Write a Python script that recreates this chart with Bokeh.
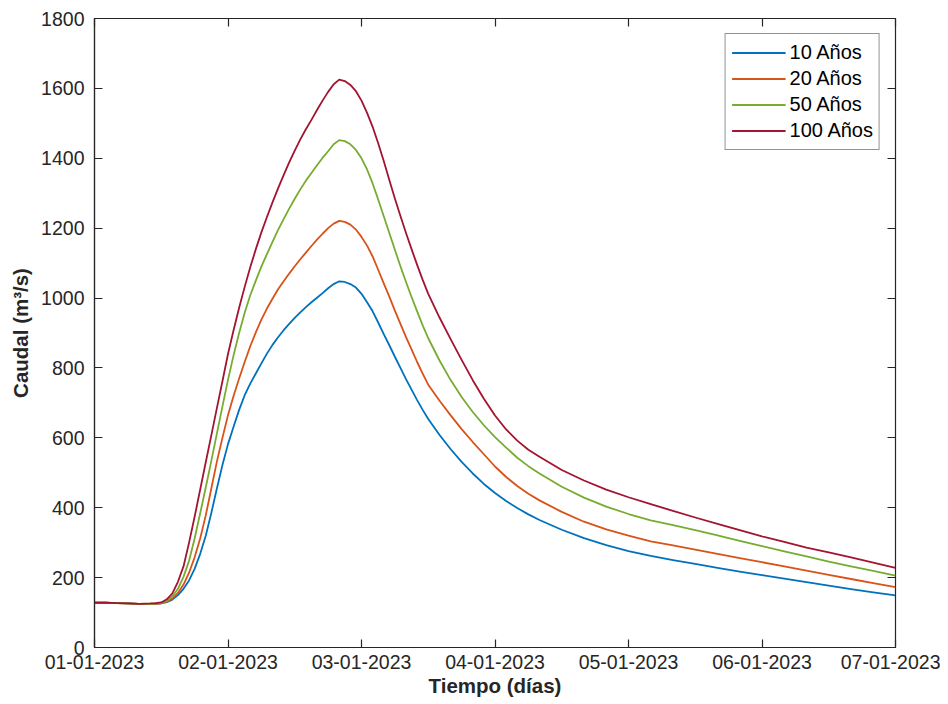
import pandas as pd
from bokeh.plotting import figure
from bokeh.models import (FixedTicker, DatetimeTickFormatter, DatetimeAxis, LinearAxis,
                          Legend, LegendItem, Range1d, CustomJSTickFormatter)
from bokeh.embed import file_html
from bokeh.resources import INLINE

# Time in hours from 01-01-2023 00:00
hours = [0, 2, 4, 6, 8, 10,
         11, 12, 13, 14, 15, 16, 17, 18, 19, 20, 21, 22, 23, 24, 25, 26, 27, 28, 29, 30,
         31, 32, 33, 34, 35, 36, 37, 38, 39, 40, 41, 42, 43, 44, 45, 46, 47, 48, 49, 50,
         51, 52, 53, 54, 55, 56, 57, 58, 59, 60,
         62, 64, 66, 68, 70, 72, 74, 76, 78, 80,
         84, 88, 92, 96, 100, 104, 108, 112, 116, 120, 124, 128, 132, 136, 140, 144]

q10 = [128, 128, 127, 126, 125, 125,
       125, 126, 130, 137, 150, 168, 192, 225, 268, 320, 385, 455, 522, 582, 632, 680, 722, 755, 784, 813,
       841, 866, 888, 908, 926, 943, 959, 974, 988, 1001, 1014, 1028, 1040, 1048, 1046, 1040, 1030, 1012, 988, 962,
       930, 897, 865, 832, 800, 768, 738, 708, 680, 654,
       609, 568, 531, 498, 468, 442, 419, 399, 381, 365,
       337, 313, 293, 276, 262, 250, 239, 228, 217, 207, 197, 187, 177, 167, 158, 149]
q20 = [128, 128, 127, 126, 125, 125,
       125, 126, 131, 140, 156, 180, 214, 258, 312, 378, 455, 532, 600, 665, 720, 770, 817, 862, 902, 938,
       970, 998, 1025, 1048, 1070, 1091, 1111, 1130, 1149, 1167, 1184, 1200, 1213, 1221, 1218, 1210, 1196, 1175, 1150, 1119,
       1081, 1042, 1004, 964, 926, 888, 853, 817, 784, 752,
       707, 665, 625, 588, 553, 518, 488, 462, 440, 421,
       388, 360, 338, 320, 304, 292, 280, 268, 256, 244, 232, 220, 208, 196, 184, 173]
q50 = [128, 128, 127, 126, 125, 125,
       126, 127, 133, 146, 168, 202, 248, 312, 384, 458, 534, 612, 690, 766, 836, 900, 958, 1008, 1050, 1090,
       1126, 1161, 1195, 1226, 1256, 1284, 1311, 1336, 1358, 1380, 1401, 1420, 1440, 1452, 1449, 1440, 1424, 1400, 1368, 1328,
       1282, 1234, 1186, 1138, 1091, 1046, 1003, 962, 922, 885,
       822, 766, 717, 674, 636, 602, 572, 543, 519, 498,
       460, 429, 403, 382, 364, 350, 336, 321, 305, 290, 275, 261, 246, 232, 219, 206]
q100 = [128, 128, 127, 126, 125, 126,
        127, 129, 138, 155, 188, 232, 300, 374, 452, 530, 607, 685, 762, 840, 908, 972, 1032, 1088, 1140, 1188,
        1232, 1274, 1314, 1352, 1388, 1422, 1454, 1483, 1510, 1538, 1565, 1590, 1612, 1625, 1621, 1610, 1592, 1565, 1530, 1490,
        1443, 1392, 1338, 1285, 1235, 1186, 1140, 1095, 1052, 1012,
        945, 883, 823, 765, 712, 664, 624, 592, 566, 546,
        508, 478, 452, 430, 410, 391, 372, 354, 336, 318, 302, 286, 272, 258, 243, 228]

series_labels = ["10 Años", "20 Años", "50 Años", "100 Años"]
series_values = [q10, q20, q50, q100]
series_colors = ["#0072BD", "#D95319", "#77AC30", "#A2142F"]

tick_dates = pd.date_range("2023-01-01", "2023-01-07", freq="D")
y_ticks = list(range(0, 1801, 200))

start = pd.Timestamp("2023-01-01")
times = [start + pd.Timedelta(hours=h) for h in hours]
tick_ms = [int(d.value // 10**6) for d in tick_dates]

FONT = "Liberation Sans"
AX = "#262626"

p = figure(width=940, height=703, x_axis_type="datetime",
           x_range=Range1d(tick_dates[0], tick_dates[-1]), y_range=Range1d(0, 1800),
           output_backend="svg", toolbar_location=None,
           min_border_left=94, min_border_right=45, min_border_top=18, min_border_bottom=56)
p.background_fill_color = "white"
p.border_fill_color = "white"
p.outline_line_color = AX
p.outline_line_width = 1.2
p.xgrid.visible = False
p.ygrid.visible = False

renderers = []
for lab, vals, col in zip(series_labels, series_values, series_colors):
    r = p.line(times, vals, line_color=col, line_width=1.8, line_join="round")
    renderers.append((lab, r))


def style_axis(ax):
    ax.axis_line_color = AX
    ax.axis_line_width = 1.2
    ax.major_tick_line_color = AX
    ax.major_tick_line_width = 1.2
    ax.major_tick_in = 8
    ax.major_tick_out = 0
    ax.minor_tick_line_color = None
    ax.major_label_text_font = FONT
    ax.major_label_text_color = AX
    ax.major_label_text_font_size = "19.5px"


xax = p.xaxis[0]
xax.ticker = FixedTicker(ticks=tick_ms)
xax.formatter = DatetimeTickFormatter(days="%d-%m-%Y", months="%d-%m-%Y", hours="%d-%m-%Y",
                                      years="%d-%m-%Y")
style_axis(xax)
xax.major_label_standoff = 7
xax.axis_label = "Tiempo (días)"
xax.axis_label_text_font = FONT
xax.axis_label_text_font_style = "bold"
xax.axis_label_text_font_size = "20.5px"
xax.axis_label_text_color = AX
xax.axis_label_standoff = 2

yax = p.yaxis[0]
yax.ticker = FixedTicker(ticks=y_ticks)
style_axis(yax)
yax.major_label_standoff = 10
yax.axis_label = "Caudal (m³/s)"
yax.axis_label_text_font = FONT
yax.axis_label_text_font_style = "bold"
yax.axis_label_text_font_size = "20.5px"
yax.axis_label_text_color = AX
yax.axis_label_standoff = 6

blank = CustomJSTickFormatter(code="return '';")

top = DatetimeAxis(ticker=FixedTicker(ticks=tick_ms), formatter=blank)
style_axis(top)
top.axis_line_color = None
top.major_label_standoff = 0
p.add_layout(top, "above")

right = LinearAxis(ticker=FixedTicker(ticks=y_ticks), formatter=blank)
style_axis(right)
right.axis_line_color = None
right.major_label_standoff = 0
p.add_layout(right, "right")

legend = Legend(items=[LegendItem(label=l, renderers=[r]) for l, r in renderers],
                location="top_right")
legend.margin = 15
legend.padding = 6
legend.spacing = 1
legend.glyph_width = 54
legend.glyph_height = 25
legend.label_height = 25
legend.label_standoff = 4
legend.label_text_font = FONT
legend.label_text_font_size = "20px"
legend.label_text_color = "black"
legend.border_line_color = AX
legend.border_line_width = 1.2
legend.background_fill_color = "white"
legend.background_fill_alpha = 1
p.add_layout(legend, "center")

open("out.html", "w").write(file_html(p, INLINE))
